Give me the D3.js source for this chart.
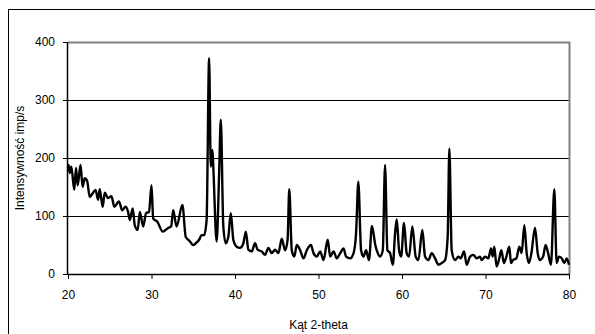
<!DOCTYPE html>
<html><head><meta charset="utf-8">
<script src="https://cdn.jsdelivr.net/npm/d3@7"></script>
<style>body{margin:0;background:#fff}svg{display:block}text{font-family:"Liberation Sans",Arial,sans-serif;fill:#000}</style>
</head><body><svg id="c" width="595" height="334"></svg>
<script>
const twoTheta = [20.0,20.08,20.2,20.4,20.75,20.96,21.16,21.5,21.75,22.0,22.3,22.6,22.95,23.3,23.6,23.8,24.15,24.4,24.8,25.2,25.55,26.1,26.5,26.9,27.2,27.4,27.75,28.0,28.35,28.6,29.0,29.35,29.7,30.0,30.2,30.7,31.35,31.95,32.35,32.6,33.0,33.7,34.1,34.4,34.6,35.0,35.3,35.7,36.0,36.3,36.6,36.9,37.1,37.3,37.4,37.8,38.1,38.3,38.6,38.9,39.2,39.5,39.8,40.2,40.6,41.0,41.3,41.6,42.0,42.4,42.7,43.2,43.6,44.0,44.4,44.8,45.2,45.6,46.0,46.3,46.5,46.8,47.1,47.4,47.8,48.2,48.6,49.1,49.4,49.8,50.2,50.6,51.1,51.4,51.8,52.2,52.6,53.0,53.3,53.8,54.2,54.5,54.77,55.1,55.4,55.7,56.05,56.4,56.8,57.1,57.37,57.7,57.97,58.25,58.57,58.9,59.17,59.37,59.65,59.9,60.24,60.56,60.85,61.24,61.64,61.96,62.44,62.76,63.16,63.56,63.96,64.36,64.76,65.16,65.47,65.67,65.95,66.35,66.75,67.03,67.43,67.75,68.15,68.55,68.95,69.35,69.54,69.94,70.34,70.66,70.86,71.05,71.33,71.6,71.9,72.2,72.5,72.85,73.05,73.3,73.7,74.05,74.33,74.65,74.93,75.2,75.5,75.93,76.25,76.5,76.9,77.2,77.5,77.84,78.24,78.52,78.8,79.12,79.45,79.72,80.0];
const intensity = [178,188,174,185,145,183,153,188,150,165,160,133,139,145,128,146,116,140,131,134,116,125,110,116,107,93,113,84,76,107,82,105,107,153,96,90,73,79,82,110,82,119,64,59,56,50,53,59,67,67,93,372,185,214,185,56,173,266,82,53,64,105,59,47,45,53,73,42,39,53,42,39,33,45,36,42,36,61,41,59,146,41,30,50,41,27,41,50,36,30,39,24,59,30,39,27,36,44,30,27,36,70,159,41,30,41,24,83,50,36,30,41,188,41,36,16,70,94,41,30,88,36,30,82,30,24,76,30,24,36,27,16,19,24,64,216,41,24,30,27,39,16,30,33,27,30,24,30,27,44,30,47,13,24,41,19,30,47,19,24,27,47,36,84,36,19,36,80,36,24,30,50,36,16,146,19,30,27,19,27,16];
const xTicks = [20,30,40,50,60,70,80];
const yTicks = [0,100,200,300,400];
const xTitle = "Kąt 2-theta";
const yTitle = "Intensywność imp/s";

const svg = d3.select("#c");
const L=68,R=569,T=42,B=274;
const x = d3.scaleLinear().domain([20,80]).range([L,R]);
const y = d3.scaleLinear().domain([0,400]).range([B,T]);

svg.append("rect").attr("x",8.5).attr("y",9.5).attr("width",620).attr("height",400)
  .attr("fill","none").attr("stroke","#000").attr("stroke-width",1);

svg.append("g").selectAll("line").data(yTicks.filter(d=>d>0&&d<400)).join("line")
  .attr("x1",L).attr("x2",R).attr("y1",d=>Math.round(y(d))+0.5).attr("y2",d=>Math.round(y(d))+0.5)
  .attr("stroke","#000").attr("stroke-width",1);

svg.append("line").attr("x1",L).attr("x2",R+1).attr("y1",T+0.5).attr("y2",T+0.5).attr("stroke","#808080").attr("stroke-width",2);
svg.append("line").attr("x1",R+0.5).attr("x2",R+0.5).attr("y1",T).attr("y2",B).attr("stroke","#808080").attr("stroke-width",2);

const line = d3.line().curve(d3.curveMonotoneX).x((d,i)=>x(twoTheta[i])).y(d=>y(d));
svg.append("path").datum(intensity).attr("d",line).attr("fill","none")
  .attr("stroke","#000").attr("stroke-width",2.4).attr("stroke-linejoin","round");

const xAxis = d3.axisBottom(x).tickValues(xTicks).tickSize(5).tickPadding(11).tickFormat(d3.format("d"));
const gx = svg.append("g").attr("transform",`translate(0,${B})`).call(xAxis);
const yAxis = d3.axisLeft(y).tickValues(yTicks).tickSize(5).tickPadding(8).tickFormat(d3.format("d"));
const gy = svg.append("g").attr("transform",`translate(${L},0)`).call(yAxis);
[gx,gy].forEach(g=>{
  g.select(".domain").attr("stroke","#000").attr("stroke-width",1.5);
  g.selectAll(".tick line").attr("stroke","#000");
  g.selectAll(".tick text").attr("font-size",12).attr("font-family","Liberation Sans, Arial, sans-serif").attr("fill","#000");
});
gx.select(".domain").attr("d",`M${L},0.5H${R+1}`);
gy.select(".domain").attr("d",`M-0.5,${T}V${B+0.5}`);

svg.append("text").attr("x",(L+R)/2).attr("y",329).attr("text-anchor","middle").attr("font-size",12).text(xTitle);
svg.append("text").attr("transform",`translate(24,${(T+B)/2}) rotate(-90)`).attr("text-anchor","middle").attr("font-size",12).text(yTitle);
</script></body></html>
